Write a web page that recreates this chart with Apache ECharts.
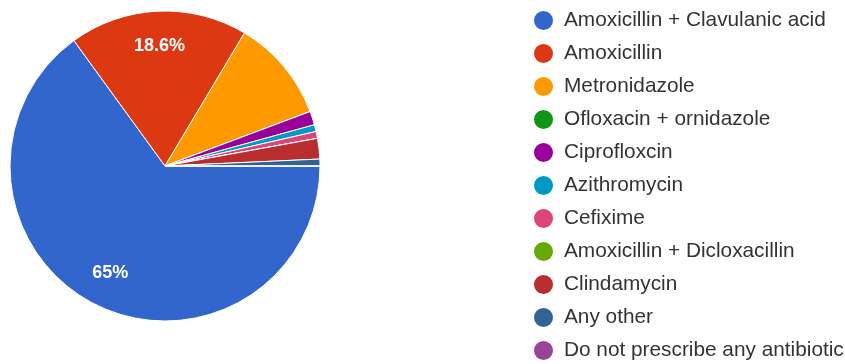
<!DOCTYPE html>
<html>
<head>
<meta charset="utf-8">
<script src="https://cdn.jsdelivr.net/npm/echarts@6/dist/echarts.min.js"></script>
<style>
  html, body { margin: 0; padding: 0; background: #fff; }
  #chart { width: 845px; height: 364px; }
</style>
</head>
<body>
<div id="chart"></div>
<script>
// Antibiotic choices (response counts)
const categories = [
  'Amoxicillin + Clavulanic acid',
  'Amoxicillin',
  'Metronidazole',
  'Ofloxacin + ornidazole',
  'Ciprofloxcin',
  'Azithromycin',
  'Cefixime',
  'Amoxicillin + Dicloxacillin',
  'Clindamycin',
  'Any other',
  'Do not prescribe any antibiotic'
];
const counts = [91, 26, 15, 0, 2, 1, 1, 0, 3, 1, 0];
const colors = ['#3366cc', '#dc3912', '#ff9900', '#109618', '#990099', '#0099c6',
                '#dd4477', '#66aa00', '#b82e2e', '#316395', '#994499'];

const FONT = '"Liberation Sans", Arial, sans-serif';
const center = [165, 166];
const R = 155;

const pieData = categories.map((name, i) => ({
  name, value: counts[i], itemStyle: { color: colors[i] }
}));

const chart = echarts.init(document.getElementById('chart'), null, { renderer: 'canvas' });
chart.setOption({
  backgroundColor: '#ffffff',
  animation: false,
  color: colors,
  legend: {
    orient: 'vertical',
    left: 532,
    top: 9,
    height: 420,
    padding: 0,
    icon: 'circle',
    itemWidth: 21,
    itemHeight: 21,
    itemGap: 10,
    selectedMode: false,
    data: categories,
    textStyle: {
      fontFamily: FONT,
      fontSize: 20.8,
      color: '#333333',
      lineHeight: 21,
      padding: [0, 0, 0, 5]
    }
  },
  series: [
    {
      type: 'pie',
      center: center,
      radius: [0, R],
      startAngle: 0,
      clockwise: true,
      minAngle: 0,
      label: { show: false },
      labelLine: { show: false },
      emphasis: { disabled: true },
      itemStyle: { borderColor: '#ffffff', borderWidth: 1 },
      data: pieData
    },
    {
      // transparent ring used only to place percent labels at ~3/4 radius
      type: 'pie',
      center: center,
      radius: [80, R],
      startAngle: 0,
      clockwise: true,
      silent: true,
      percentPrecision: 1,
      legendHoverLink: false,
      emphasis: { disabled: true },
      itemStyle: { color: 'rgba(0,0,0,0)', borderWidth: 0 },
      labelLine: { show: false },
      label: {
        show: true,
        position: 'inside',
        color: '#ffffff',
        fontFamily: FONT,
        fontSize: 18,
        fontWeight: 'bold',
        formatter: p => (p.percent >= 15 ? p.percent + '%' : '')
      },
      data: categories.map((name, i) => ({ name, value: counts[i] }))
    }
  ]
});
</script>
</body>
</html>
